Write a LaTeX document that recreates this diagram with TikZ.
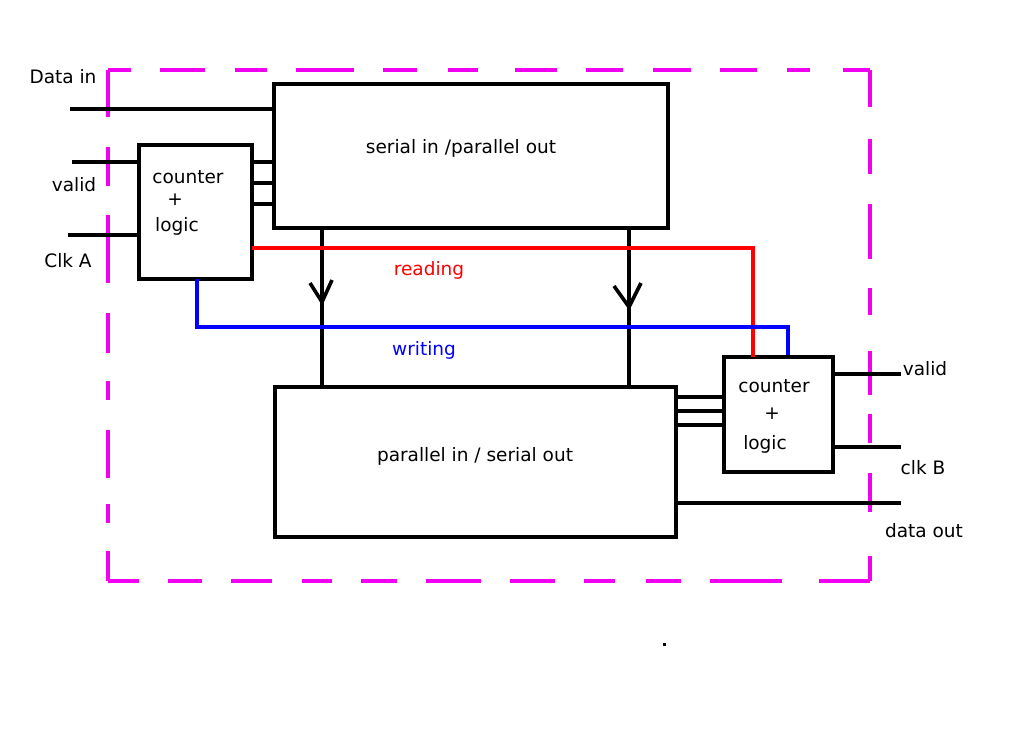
\documentclass[tikz,border=0pt]{standalone}
\usepackage{fontspec}
\setmainfont{DejaVu Sans}
\begin{document}
\begin{tikzpicture}[x=1pt,y=-1pt,
  blk/.style={draw=black,line width=3.6pt,rectangle,inner sep=0pt,outer sep=0pt},
  wire/.style={line width=3.6pt,black},
  lbl/.style={inner sep=0pt,font=\fontsize{18.5}{22}\selectfont},
  bnd/.style={line width=3.6pt,color={rgb,255:red,240;green,0;blue,240}}]
\useasboundingbox (0,0) rectangle (1015,737);
% boundary (irregular dashes)
\foreach \a/\b in {108/131,160/205,235/267,296/354,383/417,448/478,515/557,586/623,653/691,720/757,787/810,843/870}
  \draw[bnd] (\a,70) -- (\b,70);
\foreach \a/\b in {108/139,168/202,231/272,302/332,361/397,426/481,510/555,584/615,646/681,710/782,819/870}
  \draw[bnd] (\a,581) -- (\b,581);
\foreach \a/\b in {70/117,147/186,215/283,313/353,381/400,430/478,504/523,551/581}
  \draw[bnd] (108,\a) -- (108,\b);
\foreach \a/\b in {70/107,139/174,204/259,288/315,351/395,414/443,473/512,556/581}
  \draw[bnd] (870,\a) -- (870,\b);
% blocks
\node[blk,minimum width=394pt,minimum height=144pt] (sipo) at (471,156) {};
\node[blk,minimum width=113pt,minimum height=134pt] (ctrA) at (195.5,212) {};
\node[blk,minimum width=401pt,minimum height=150pt] (piso) at (475.5,462) {};
\node[blk,minimum width=109pt,minimum height=115pt] (ctrB) at (778.5,414.5) {};
% block texts
\node[lbl] (tsipo) at (461,148) {serial in /parallel out};
\node[lbl] (tpiso) at (475,456) {parallel in / serial out};
\node[lbl] (ca1) at (188,177) {counter};
\node[lbl] (ca2) at (175,200) {+};
\node[lbl] (ca3) at (177,226) {logic};
\node[lbl] (cb1) at (774,386) {counter};
\node[lbl] (cb2) at (772,414) {+};
\node[lbl] (cb3) at (765,444) {logic};
% outer labels
\node[lbl] (ldin) at (63,77) {Data in};
\node[lbl] (lva) at (74,185) {valid};
\node[lbl] (lclka) at (68,261) {Clk A};
\node[lbl,text=red] (lread) at (429,270) {reading};
\node[lbl,text=blue] (lwrite) at (424,350) {writing};
\node[lbl] (lvb) at (925,369) {valid};
\node[lbl] (lclkb) at (923,468) {clk B};
\node[lbl] (ldout) at (924,531) {data out};
% free ends
\coordinate (din) at (70,109);
\coordinate (vin) at (72,162);
\coordinate (clkin) at (68,235);
\coordinate (vout) at (901,374);
\coordinate (clkout) at (901,447);
\coordinate (dout) at (901,503);
% input wires
\draw[wire] (din) -- (sipo.west |- din);
\draw[wire] (vin) -- (ctrA.west |- vin);
\draw[wire] (clkin) -- (ctrA.west |- clkin);
\foreach \yy in {162,183,204}
  \draw[wire] (ctrA.east |- 0,\yy) -- ([xshift=2pt]sipo.west |- 0,\yy);
% outputs
\draw[wire] (ctrB.east |- vout) -- (vout);
\draw[wire] (ctrB.east |- clkout) -- (clkout);
\draw[wire] (piso.east |- dout) -- (dout);
\foreach \yy in {397,411,425}
  \draw[wire] (piso.east |- 0,\yy) -- (ctrB.west |- 0,\yy);
% vertical transfer lines with V arrows
\coordinate (tip1) at (322,302);
\coordinate (tip2) at (629,307);
\draw[wire] (sipo.south -| tip1) -- (piso.north -| tip1);
\draw[wire] (sipo.south -| tip2) -- ([yshift=-2pt]piso.north -| tip2);
\draw[wire,line join=round] ([shift={(-12,-19)}]tip1) -- (tip1) -- ([shift={(10,-22)}]tip1);
\draw[wire,line join=round] ([shift={(-15,-21)}]tip2) -- (tip2) -- ([shift={(12,-24)}]tip2);
% reading / writing
\draw[line width=3.6pt,red] (ctrA.east |- 0,248) -- (753,248) -- (ctrB.north -| 753,0);
\draw[line width=3.6pt,blue] (ctrA.south -| 197,0) -- (197,327) -- (788,327) -- ([yshift=2pt]ctrB.north -| 788,0);
% stray dot
\fill (662.5,642.5) rectangle ++(3,3);
\end{tikzpicture}
\end{document}
